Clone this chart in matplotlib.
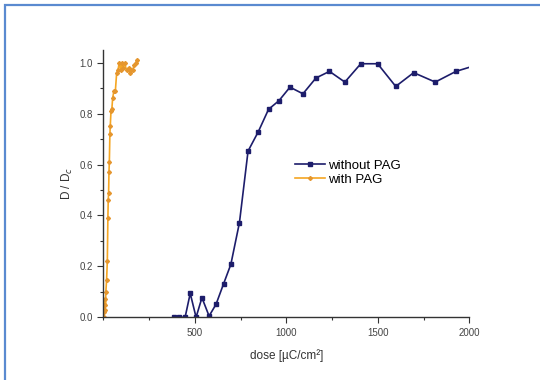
import matplotlib
matplotlib.use('Agg')
import matplotlib.pyplot as plt
from matplotlib.patches import Rectangle
from matplotlib.ticker import MultipleLocator

plt.rcParams['font.family'] = ['Liberation Sans', 'DejaVu Sans']

# Data
dose_no_pag = [387, 415, 447, 475, 507, 539, 578, 616, 657, 697, 744, 791, 847,
               903, 960, 1020, 1091, 1162, 1236, 1320, 1407, 1499, 1598, 1696,
               1814, 1927, 2000]
d_no_pag = [0.0, 0.0, 0.0, 0.094, 0.0, 0.077, 0.005, 0.051, 0.131, 0.208, 0.372,
            0.653, 0.729, 0.817, 0.851, 0.904, 0.878, 0.94, 0.966, 0.924, 0.996,
            0.996, 0.907, 0.961, 0.924, 0.966, 0.982]

dose_pag = [2, 4, 6, 8, 10, 12, 14, 18, 22, 25, 27, 29, 31, 33, 36, 38, 42, 47,
            51, 58, 66, 73, 80, 87, 95, 102, 109, 116, 127, 138, 146, 153, 160,
            168, 178, 186]
d_pag = [0.0, 0.02, 0.05, 0.03, 0.07, 0.05, 0.1, 0.147, 0.22, 0.39, 0.46, 0.49,
         0.57, 0.61, 0.72, 0.75, 0.81, 0.82, 0.86, 0.89, 0.89, 0.96, 0.97, 1.0,
         0.97, 1.0, 0.98, 1.0, 0.97, 0.98, 0.96, 0.97, 0.97, 0.99, 1.0, 1.01]

navy = '#1d1d6b'
orange = '#f5a623'

fig = plt.figure(figsize=(5.4, 3.8), dpi=100)

# blue frame round the picture
fig.patches.append(Rectangle((5 / 540, -0.1), 1.2, 1 - 5 / 380 + 0.1,
                             transform=fig.transFigure, fill=False,
                             edgecolor='#5a8ad0', linewidth=1.6))

ax = fig.add_axes([103.3 / 540, 1 - 317.3 / 380, 366 / 540, 267.3 / 380])

ax.plot(dose_no_pag, d_no_pag, color=navy, lw=1.2, marker='s', ms=2.2,
        markevery=list(range(len(dose_no_pag) - 1)), label='without PAG')
ax.plot(dose_pag, d_pag, color=orange, lw=1.2, marker='D', ms=2.0,
        mfc='#e5962e', mec='#e5962e', label='with PAG')

ax.set_xlim(0, 2000)
ax.set_ylim(0, 1.05)
ax.set_xticks([500, 1000, 1500, 2000])
ax.xaxis.set_minor_locator(MultipleLocator(250))
ax.yaxis.set_major_locator(MultipleLocator(0.2))
ax.yaxis.set_minor_locator(MultipleLocator(0.1))
ax.yaxis.set_major_formatter(plt.FormatStrFormatter('%.1f'))

for s in ['top', 'right']:
    ax.spines[s].set_visible(False)
for s in ['left', 'bottom']:
    ax.spines[s].set_color('#333333')
    ax.spines[s].set_linewidth(1.0)

ax.tick_params(which='major', direction='out', length=4, width=0.8,
               colors='#333333', labelsize=7, labelcolor='#444444')
ax.tick_params(which='minor', direction='out', length=2.5, width=0.8,
               colors='#333333')

ax.set_xlabel('dose [µC/cm²]', fontsize=8.5, color='#333333', labelpad=8)
ax.set_ylabel('D / D$_c$', fontsize=8.5, color='#333333', labelpad=3)

ax.legend(loc='upper left', bbox_to_anchor=(0.49, 0.635), frameon=False,
          fontsize=9.5, handlelength=2.3, handletextpad=0.25, labelspacing=0.15)

fig.savefig('out.png', dpi=100)
